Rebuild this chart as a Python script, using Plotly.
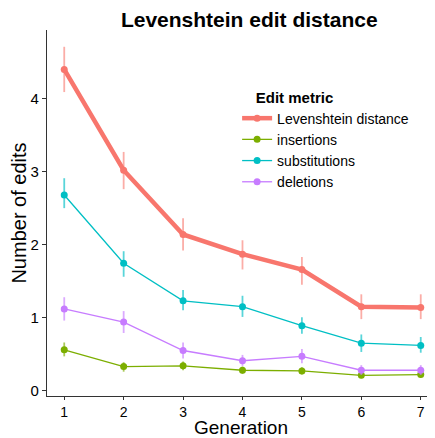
import plotly.graph_objects as go

generation = [1, 2, 3, 4, 5, 6, 7]

lev = [4.40, 3.02, 2.14, 1.87, 1.66, 1.15, 1.14]
lev_hi = [4.71, 3.27, 2.36, 2.06, 1.83, 1.32, 1.32]
lev_lo = [4.09, 2.76, 1.92, 1.66, 1.45, 0.98, 0.98]

ins = [0.56, 0.33, 0.34, 0.28, 0.27, 0.21, 0.22]
ins_hi = [0.66, 0.39, 0.40, 0.33, 0.32, 0.25, 0.26]
ins_lo = [0.47, 0.26, 0.28, 0.23, 0.22, 0.17, 0.18]

sub = [2.68, 1.745, 1.23, 1.15, 0.89, 0.65, 0.62]
sub_hi = [2.91, 1.91, 1.38, 1.30, 1.005, 0.77, 0.735]
sub_lo = [2.50, 1.56, 1.10, 1.01, 0.78, 0.53, 0.52]

dele = [1.12, 0.94, 0.55, 0.41, 0.47, 0.28, 0.28]
dele_hi = [1.28, 1.09, 0.66, 0.49, 0.57, 0.35, 0.35]
dele_lo = [0.96, 0.79, 0.44, 0.34, 0.375, 0.215, 0.215]

series = [
    ("Levenshtein distance", lev, lev_hi, lev_lo, "#F8766D", "rgba(248,118,109,0.6)", 4.5),
    ("insertions", ins, ins_hi, ins_lo, "#7CAE00", "rgba(124,174,0,0.65)", 1.3),
    ("substitutions", sub, sub_hi, sub_lo, "#00BFC4", "rgba(0,191,196,0.65)", 1.3),
    ("deletions", dele, dele_hi, dele_lo, "#C77CFF", "rgba(199,124,255,0.65)", 1.3),
]

fig = go.Figure()
for name, v, hi, lo, col, ecol, lw in series:
    fig.add_trace(go.Scatter(
        x=generation, y=v, name=name, mode="lines+markers",
        line=dict(color=col, width=lw),
        marker=dict(color=col, size=7),
        error_y=dict(type="data", symmetric=False,
                     array=[h - a for h, a in zip(hi, v)],
                     arrayminus=[a - l for a, l in zip(v, lo)],
                     color=ecol, thickness=1.8, width=0),
    ))

# the page body adds an 8px margin, so the figure is laid out 8px up/left
font_family = "Liberation Sans, Arial, sans-serif"
fig.update_layout(
    width=427, height=430,
    margin=dict(l=39, r=0, t=22, b=42, autoexpand=False),
    paper_bgcolor="white", plot_bgcolor="white",
    font=dict(family=font_family, color="black"),
    title=dict(text="<b>Levenshtein edit distance</b>", x=0.565, xanchor="center",
               y=0.972, yanchor="middle", font=dict(size=21, color="black")),
    showlegend=True,
    legend=dict(title=dict(text="<b>&nbsp;&nbsp;&nbsp;&nbsp;Edit metric</b>", font=dict(size=15)),
                x=0.49, xanchor="left", y=0.855, yanchor="top",
                font=dict(size=14), bgcolor="rgba(0,0,0,0)",
                itemwidth=30, tracegroupgap=0),
)
fig.update_xaxes(range=[0.71, 7.24], tickvals=generation, ticktext=[str(g) for g in generation],
                 showgrid=False, zeroline=False, showline=True, linecolor="#333333", linewidth=1.2,
                 ticks="outside", ticklen=3, tickcolor="#333333", automargin=False,
                 tickfont=dict(size=14, color="black"),
                 title=dict(text="Generation", font=dict(size=19)))
fig.update_yaxes(range=[-0.073, 4.94], tickvals=[0, 1, 2, 3, 4],
                 showgrid=False, zeroline=False, showline=True, linecolor="#333333", linewidth=1.2,
                 ticks="outside", ticklen=4, tickcolor="#333333", automargin=False,
                 tickfont=dict(size=15, color="black"),
                 title=dict(text="Number of edits", font=dict(size=20), standoff=0))

fig.write_html("out.html")
